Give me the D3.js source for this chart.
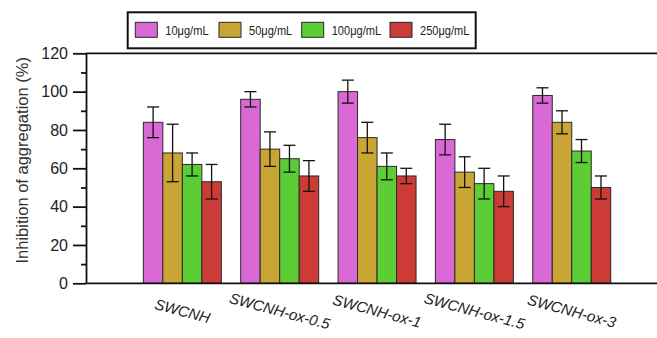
<!DOCTYPE html>
<html><head><meta charset="utf-8">
<script src="https://cdn.jsdelivr.net/npm/d3@7"></script>
<style>body{margin:0;background:#fff}svg{display:block}</style>
</head><body>
<script>
const categories = ["SWCNH","SWCNH-ox-0.5","SWCNH-ox-1","SWCNH-ox-1.5","SWCNH-ox-3"];
const seriesNames = ["10μg/mL","50μg/mL","100μg/mL","250μg/mL"];
const seriesColors = ["#da68d5","#c9a535","#5ccd35","#cc3b36"];
const v10  = [84, 96, 100, 75, 98];
const v50  = [68, 70, 76, 58, 84];
const v100 = [62, 65, 61, 52, 69];
const v250 = [53, 56, 56, 48, 50];
const e10  = [8, 4, 6, 8, 4];
const e50  = [15, 9, 8, 8, 6];
const e100 = [6, 7, 7, 8, 6];
const e250 = [9, 8, 4, 8, 6];
const yTicks = [0,20,40,60,80,100,120];
const yMinor = [10,30,50,70,90,110];

const values = [v10, v50, v100, v250];
const errors = [e10, e50, e100, e250];

const W = 657, H = 338;
const svg = d3.select("body").append("svg").attr("width", W).attr("height", H);

const axisX = 86;
const y = d3.scaleLinear().domain([0,120]).range([283.3, 53.3]);
const x = d3.scaleLinear().domain([0,6]).range([85, 669.1]);
const inner = d3.scaleBand().domain(seriesNames).range([-39, 39]).padding(0);

// bars
categories.forEach((c, i) => {
  const g = svg.append("g");
  seriesNames.forEach((s, k) => {
    const v = values[k][i], e = errors[k][i];
    const bx = x(i+1) + inner(s);
    g.append("rect")
      .attr("x", bx).attr("y", y(v))
      .attr("width", inner.bandwidth()).attr("height", y(0) - y(v))
      .attr("fill", seriesColors[k]).attr("stroke", "#2a2a2a").attr("stroke-width", 1);
    const cx = bx + inner.bandwidth()/2;
    g.append("line").attr("x1", cx).attr("x2", cx).attr("y1", y(v+e)).attr("y2", y(v-e))
      .attr("stroke", "#111").attr("stroke-width", 1.3);
    [v+e, v-e].forEach(t => {
      g.append("line").attr("x1", cx-6).attr("x2", cx+6).attr("y1", y(t)).attr("y2", y(t))
        .attr("stroke", "#111").attr("stroke-width", 1.3);
    });
  });
});

// y axis
const yAxis = d3.axisLeft(y).tickValues(yTicks).tickSize(13).tickPadding(5).tickSizeOuter(0);
const ya = svg.append("g").attr("transform", `translate(${axisX},0)`).call(yAxis);
ya.select(".domain").attr("stroke", "#111").attr("stroke-width", 1.8);
ya.selectAll(".tick line").attr("stroke", "#111").attr("stroke-width", 1.8);
ya.selectAll(".tick text").attr("font-family", "Liberation Sans, Arial, sans-serif")
  .attr("font-size", 16).attr("fill", "#222");
const yAxisMinor = d3.axisLeft(y).tickValues(yMinor).tickSize(5).tickFormat("").tickSizeOuter(0);
const ym = svg.append("g").attr("transform", `translate(${axisX},0)`).call(yAxisMinor);
ym.select(".domain").remove();
ym.selectAll(".tick line").attr("stroke", "#111").attr("stroke-width", 1.8);

// bottom and top horizontal lines
[0, 120].forEach(t => {
  svg.append("line").attr("x1", axisX).attr("x2", W).attr("y1", y(t)).attr("y2", y(t))
    .attr("stroke", "#111").attr("stroke-width", 1.8);
});

// y title
svg.append("text")
  .attr("transform", `translate(28,${(y(0)+y(120))/2 - 8}) rotate(-90)`)
  .attr("text-anchor", "middle")
  .attr("font-family", "Liberation Sans, Arial, sans-serif").attr("font-size", 16.5)
  .attr("fill", "#333")
  .text("Inhibition of aggregation (%)");

// x labels
categories.forEach((c, i) => {
  const cx = x(i+1), cy = 311;
  svg.append("text")
    .attr("transform", `translate(${cx},${cy}) rotate(15)`)
    .attr("text-anchor", "middle").attr("dy", "0.35em")
    .attr("font-family", "Liberation Sans, Arial, sans-serif").attr("font-size", 15)
    .attr("font-style", "italic").attr("fill", "#222")
    .text(c);
});

// legend
const lg = svg.append("g");
lg.append("rect").attr("x", 127.7).attr("y", 12.3).attr("width", 348).attr("height", 36)
  .attr("fill", "#fff").attr("stroke", "#111").attr("stroke-width", 2);
const swX = [135.3, 219, 301.7, 390];
seriesNames.forEach((s, k) => {
  lg.append("rect").attr("x", swX[k]).attr("y", 22.3).attr("width", 22).attr("height", 15)
    .attr("fill", seriesColors[k]).attr("stroke", "#2a2a2a").attr("stroke-width", 1);
  lg.append("text")
    .attr("transform", `translate(${swX[k]+30},30) scale(0.82,1)`)
    .attr("dy", "0.35em")
    .attr("font-family", "Liberation Sans, Arial, sans-serif").attr("font-size", 13.5)
    .attr("fill", "#222").text(s);
});
</script>
</body></html>
